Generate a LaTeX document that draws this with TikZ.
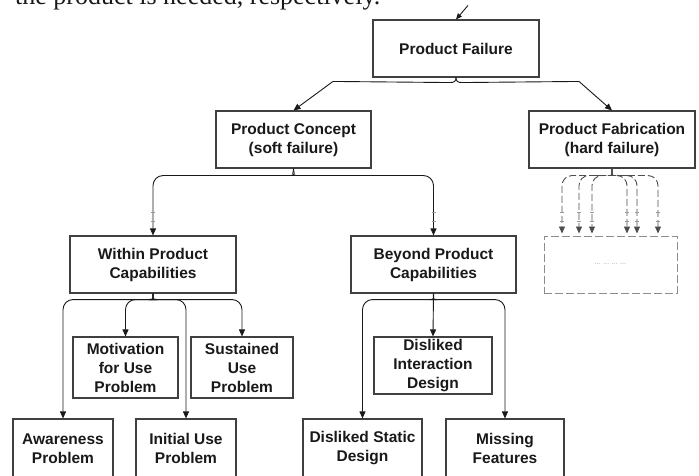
\documentclass[tikz,border=0pt]{standalone}
\usepackage{fontspec}
\setmainfont{Liberation Serif}
\newfontfamily\boxfont{Liberation Sans}
\usetikzlibrary{arrows.meta,calc}

\begin{document}
\begin{tikzpicture}[x=1pt,y=-1pt,
  box/.style={draw=black!75, line width=1.1pt, align=center, inner sep=0pt,
    font=\boxfont\bfseries\fontsize{15.5}{19}\selectfont, text=black!90},
  ghostbox/.style={draw=black!45, line width=1pt, dash pattern=on 8pt off 3pt,
    inner sep=0pt, font=\boxfont\fontsize{7}{8}\selectfont, text=black!40},
  conn/.style={line width=0.9pt, draw=black!90, rounded corners=10pt,
    -{Triangle[length=7pt,width=6pt]}},
  dconn/.style={conn, draw=black!70, dash pattern=on 7pt off 3pt},
  tickmark/.style={draw=black!40, line width=0.6pt}]

\useasboundingbox (0,0) rectangle (699,476);

% running text of the page, cut by the top edge
\node[anchor=base west, inner sep=0pt, text=black!90,
  font=\fontsize{26}{30}\selectfont] (runtext) at (15,4.5)
  {the product is needed, respectively.};

% level 0 and 1
\node[box, minimum width=166pt, minimum height=57pt] (fail) at (456,48.5) {Product Failure};
\node[box, minimum width=155pt, minimum height=57pt] (concept) at (293.5,139.5) {Product Concept\\(soft failure)};
\node[box, minimum width=166pt, minimum height=57pt] (fab) at (612,139.5) {Product Fabrication\\(hard failure)};

% level 2
\node[box, minimum width=166pt, minimum height=57pt] (within) at (153,264.5) {Within Product\\Capabilities};
\node[box, minimum width=165pt, minimum height=57pt] (beyond) at (433.5,264.5) {Beyond Product\\Capabilities};
\node[ghostbox, minimum width=133pt, minimum height=57pt] (hard) at (610.5,264.5) {... ... ... ...};

% level 3
\node[box, minimum width=105pt, minimum height=61pt] (motiv) at (125.5,367.5) {Motivation\\for Use\\Problem};
\node[box, minimum width=102pt, minimum height=61pt] (sustain) at (242,367.5) {Sustained\\Use\\Problem};
\node[box, minimum width=118pt, minimum height=57pt] (interact) at (433,365.5) {Disliked\\Interaction\\Design};

% level 4 (bottom row)
\node[box, minimum width=100pt, minimum height=59pt] (aware) at (63,448.5) {Awareness\\Problem};
\node[box, minimum width=100pt, minimum height=59pt] (initial) at (186,448.5) {Initial Use\\Problem};
\node[box, minimum width=119pt, minimum height=59pt] (static) at (362.5,448.5) {Disliked Static\\Design};
\node[box, minimum width=118pt, minimum height=59pt] (missing) at (505,448.5) {Missing\\Features};

% incoming arrow at the top
\coordinate (topin) at ($(fail.north)+(12,-14)$);
\draw[conn, -{Triangle[length=6pt,width=5pt]}] (topin) -- (fail.north);

% Product Failure -> Concept / Fabrication
\coordinate (kneeL) at ($(concept.north)+(39.5,-29)$);
\coordinate (kneeR) at ($(fab.north)+(-33,-29)$);
\draw[conn, rounded corners=0pt] (fail.south) .. controls +(0,4) and +(4,0) .. +(-6,5) -- (kneeL) -- (concept.north);
\draw[conn, rounded corners=0pt] (fail.south) .. controls +(0,4) and +(-4,0) .. +(6,5) -- (kneeR) -- (fab.north);

% Product Concept -> Within / Beyond
\draw[conn] (concept.south) .. controls +(0,5) and +(4,0) .. +(-7,7) -| (within.north);
\draw[conn] (concept.south) .. controls +(0,5) and +(-4,0) .. +(7,7) -| (beyond.north);
\foreach \t in {within,beyond}{
  \draw[tickmark] ($(\t.north)+(-2,-23)$) -- ++(4,0);
  \draw[tickmark] ($(\t.north)+(-2,-14)$) -- ++(4,0);
}

% Within Product Capabilities -> its four problems
\foreach \t/\s in {aware/-1,motiv/-1,initial/1,sustain/1}{
  \draw[conn] (within.south) .. controls +(0,4) and +(-4*\s,0) .. +(6*\s,6) -| (\t.north);
}

% Beyond Product Capabilities -> its three problems
\draw[conn] (beyond.south) -- (interact.north);
\draw[conn] (beyond.south) .. controls +(0,4) and +(4,0) .. +(-6,6) -| (static.north);
\draw[conn] (beyond.south) .. controls +(0,4) and +(-4,0) .. +(6,6) -| (missing.north);

% Product Fabrication -> unspecified hard failures
\foreach \dx/\s in {-48.5/-1,-31.5/-1,-18.5/-1,16.5/1,26.5/1,47.5/1}{
  \coordinate (hin) at ($(hard.north)+(\dx,-2)$);
  \draw[dconn] (fab.south) .. controls +(0,4) and +(-4*\s,0) .. +(6*\s,7) -| (hin);
  \draw[tickmark] ($(hard.north)+(\dx-2,-23)$) -- ++(4,0);
  \draw[tickmark] ($(hard.north)+(\dx-2,-14)$) -- ++(4,0);
}
\end{tikzpicture}
\end{document}
